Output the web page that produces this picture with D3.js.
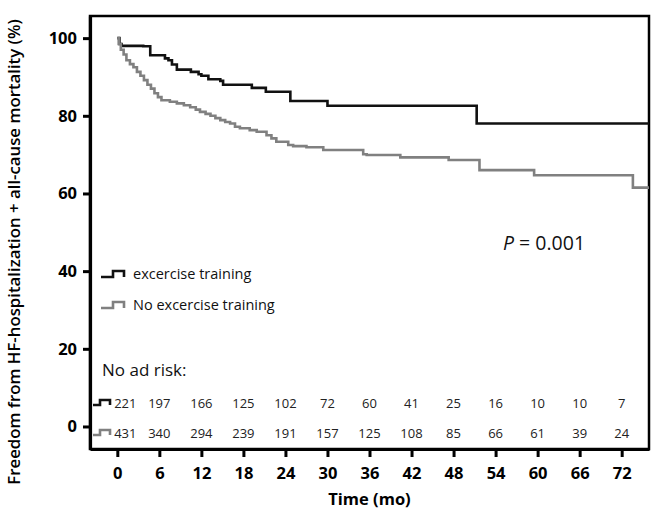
<!DOCTYPE html>
<html>
<head>
<meta charset="utf-8">
<script src="https://cdn.jsdelivr.net/npm/d3@7"></script>
<style>
body {margin:0; background:#fff;}
svg {display:block; font-family:"Open Sans", sans-serif;}
</style>
</head>
<body>
<svg></svg>
<script>
var screen = {width:654,height:513}
var margins = {top:16,right:5,left:90,bottom:64}

// Kaplan-Meier steps (month, % event free)
var trainTimes = [0,0.3,0.6,3.7,4.7,6.8,7.3,7.8,8.5,10.5,11.6,12.0,13.0,14.7,15.1,19.2,21.2,24.7,30.0,51.3,75.9]
var trainValues = [100,98.5,98.0,97.9,95.6,94.8,94.3,93.2,91.9,91.3,90.7,90.3,89.4,89.0,88.0,87.2,86.2,83.8,82.6,78.0,78.0]

var noTrainTimes = [0,0.2,0.5,0.9,1.3,1.8,2.3,2.8,3.3,3.8,4.3,4.8,5.3,5.8,6.3,7.5,8.5,9.5,10.4,11.2,11.8,12.6,13.3,14.0,14.7,15.4,16.1,16.8,17.5,18.9,19.9,21.3,22.0,22.7,24.4,25.1,27.0,29.4,35.1,35.6,40.4,47.3,51.7,59.5,73.6,75.9]
var noTrainValues = [100,98.5,97.0,95.8,94.3,93.3,92.5,91.3,90.3,89.2,88.0,87.0,85.8,84.8,84.0,83.6,83.2,82.7,82.2,81.6,81.0,80.5,80.0,79.4,78.9,78.4,78.0,77.2,76.8,76.3,75.9,75.0,74.2,73.3,72.5,72.2,71.9,71.2,70.1,69.9,69.3,68.6,66.0,64.7,61.5,61.5]

var xTicks = [0,6,12,18,24,30,36,42,48,54,60,66,72]
var yTicks = [0,20,40,60,80,100]
var riskTrain = [221,197,166,125,102,72,60,41,25,16,10,10,7]
var riskNoTrain = [431,340,294,239,191,157,125,108,85,66,61,39,24]

var seriesNames = ["excercise training","No excercise training"]
var seriesColors = ["#111111","#808080"]

var width = screen.width - margins.left - margins.right
var height = screen.height - margins.top - margins.bottom

var xScale = d3.scaleLinear()
               .domain([-3.9,75.9])
               .range([margins.left,margins.left+width])
var yScale = d3.scaleLinear()
               .domain([-5.8,105.7])
               .range([margins.top+height,margins.top])

var svg = d3.select("svg")
            .attr("width",screen.width)
            .attr("height",screen.height)

svg.append("defs")
   .append("clipPath")
   .attr("id","plotClip")
   .append("rect")
   .attr("x",margins.left)
   .attr("y",margins.top)
   .attr("width",width)
   .attr("height",height)

// frame
svg.append("rect")
   .attr("x",margins.left)
   .attr("y",margins.top)
   .attr("width",width)
   .attr("height",height)
   .attr("fill","none")
   .attr("stroke","#000")
   .attr("stroke-width",2.5)

var toPoints = function(times,values)
{
    return times.map(function(t,i){return [t,values[i]]})
}

var stepLine = d3.line()
                 .x(function(d){return xScale(d[0])})
                 .y(function(d){return yScale(d[1])})
                 .curve(d3.curveStepAfter)

var curves = [toPoints(trainTimes,trainValues),toPoints(noTrainTimes,noTrainValues)]

svg.append("g")
   .attr("clip-path","url(#plotClip)")
   .selectAll("path")
   .data(curves)
   .enter()
   .append("path")
   .attr("d",function(d){return stepLine(d)})
   .attr("fill","none")
   .attr("stroke",function(d,i){return seriesColors[i]})
   .attr("stroke-width",2.6)
   .attr("stroke-linejoin","miter")

// axes
var xAxis = d3.axisBottom(xScale).tickValues(xTicks).tickSize(8).tickSizeOuter(0).tickPadding(6)
var yAxis = d3.axisLeft(yScale).tickValues(yTicks).tickSize(7).tickSizeOuter(0).tickPadding(6)

var gx = svg.append("g")
            .attr("transform","translate(0,"+(margins.top+height)+")")
            .call(xAxis)
var gy = svg.append("g")
            .attr("transform","translate("+margins.left+",0)")
            .call(yAxis)

;[gx,gy].forEach(function(g)
{
    g.select(".domain").attr("stroke","#000").attr("stroke-width",3.2)
    g.selectAll(".tick line").attr("stroke","#000").attr("stroke-width",3)
    g.selectAll(".tick text")
     .attr("fill","#000")
     .style("font-family","'Open Sans', sans-serif")
     .style("font-weight","700")
     .style("font-size","16.5px")
})
gx.selectAll(".tick text").attr("dy","0.95em")

svg.append("text")
   .attr("x",xScale(36))
   .attr("y",505)
   .attr("text-anchor","middle")
   .style("font-weight","700")
   .style("font-size","16.5px")
   .text("Time (mo)")

svg.append("text")
   .attr("transform","translate(20,"+252+") rotate(-90)")
   .attr("text-anchor","middle")
   .style("font-weight","600")
   .style("font-size","16.8px")
   .text("Freedom from HF-hospitalization + all-cause mortality (%)")

// small step icon used in legend
var stepIcon = function(x,y,color)
{
    svg.append("path")
       .attr("d","M"+x+","+(y+3)+"h12v-6h11v6")
       .attr("fill","none")
       .attr("stroke",color)
       .attr("stroke-width",2.6)
}

var legendY = [274,305]
seriesNames.forEach(function(name,i)
{
    stepIcon(101,legendY[i],seriesColors[i])
    svg.append("text")
       .attr("x",133)
       .attr("y",legendY[i])
       .attr("dy","0.35em")
       .style("font-size","14.5px")
       .attr("fill","#111")
       .text(name)
})

svg.append("text")
   .attr("x",102)
   .attr("y",370)
   .attr("dy","0.35em")
   .style("font-size","17px")
   .attr("fill","#111")
   .text("No ad risk:")

var riskRows = [riskTrain,riskNoTrain]
var riskY = [403,433]
riskRows.forEach(function(row,r)
{
    svg.append("path")
       .attr("d","M93,"+(riskY[r]+2)+"h7v-5h10v5")
       .attr("fill","none")
       .attr("stroke",seriesColors[r])
       .attr("stroke-width",2.6)
    svg.append("g")
       .selectAll("text")
       .data(row)
       .enter()
       .append("text")
       .attr("x",function(n,i){return xScale(xTicks[i]) + (i==0 ? 8 : 0)})
       .attr("y",riskY[r])
       .attr("dy","0.35em")
       .attr("text-anchor","middle")
       .style("font-size","13px")
       .attr("fill","#222")
       .text(function(n){return n})
})

var pText = svg.append("text")
   .attr("x",503)
   .attr("y",243)
   .attr("dy","0.35em")
   .style("font-size","19.5px")
   .attr("fill","#111")
pText.append("tspan").style("font-style","italic").text("P")
pText.append("tspan").text(" = 0.001")
</script>
</body>
</html>
